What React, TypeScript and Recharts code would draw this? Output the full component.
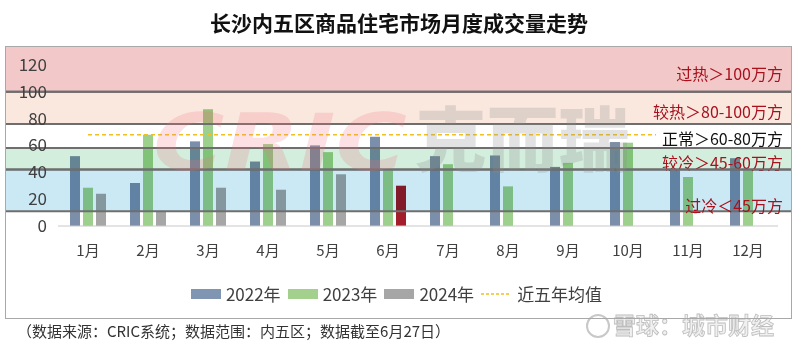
import React from "react";
import { Bar, Cell, ComposedChart, Legend, Line, ReferenceArea, XAxis, YAxis } from "recharts";

const months = ["1月", "2月", "3月", "4月", "5月", "6月", "7月", "8月", "9月", "10月", "11月", "12月"];
const sales2022 = [52, 32, 63, 48, 60, 66.5, 52, 52.5, 44, 62.5, 41.5, 50.5];
const sales2023 = [28.5, 68, 87, 61, 55, 41.5, 46, 29.5, 47, 62, 36.5, 41.5];
const sales2024 = [24, 11, 28.5, 27, 38.5, 30, null, null, null, null, null, null];
const fiveYearAvg = [68, 68, 68, 68, 68, 68, 68, 68, 68, 68, 68, 68];

const yTicks = [0, 20, 40, 60, 80, 100, 120];

// 背景色带（上沿 / 下沿，单位万方）
const bandTops = [134, 100, 76, 58, 42];
const bandBottoms = [100, 76, 58, 42, 11];
const bandLabels = ["过热＞100万方", "较热＞80-100万方", "正常＞60-80万方", "较冷＞45-60万方", "过冷＜45万方"];

const BAND_FILL = ["#f2c8c8", "#fae8df", "#ffffff", "#d3eedd", "#cbe8f5"];
const BAND_TEXT = ["#a8101c", "#a8101c", "#111111", "#a8101c", "#a8101c"];
const BAND_LABEL_UP = [19, 13, 10, 8, 6];

const FRAME_L = 5;
const FRAME_R = 792;
const FONT = '"Noto Sans CJK SC", "Noto Sans", sans-serif';

const data = months.map((m, i) => ({
  month: m,
  y2022: sales2022[i],
  y2023: sales2023[i],
  y2024: sales2024[i],
  avg: fiveYearAvg[i],
}));

const bandShape = (i: number) => (p: any) => {
  const { y, height } = p;
  const bottom = y + height;
  return (
    <g>
      <rect
        x={FRAME_L}
        y={y}
        width={FRAME_R - FRAME_L}
        height={height}
        fill={BAND_FILL[i]}
        style={{ mixBlendMode: "multiply" }}
      />
      {i > 0 && <line x1={FRAME_L} x2={FRAME_R} y1={y} y2={y} stroke="#6e6e6e" strokeWidth={2} />}
      <line x1={FRAME_L} x2={FRAME_R} y1={bottom} y2={bottom} stroke="#6e6e6e" strokeWidth={2} />
      {i === 2 && <rect x={656} y={bottom - BAND_LABEL_UP[i] - 10} width={128} height={20} fill="#ffffff" />}
      <text
        x={783}
        y={bottom - BAND_LABEL_UP[i]}
        textAnchor="end"
        dominantBaseline="central"
        fontSize={16}
        fontFamily={FONT}
        fill={BAND_TEXT[i]}
      >
        {bandLabels[i]}
      </text>
    </g>
  );
};

const legendItems = [
  { label: "2022年", color: "#7f95b2", dash: false },
  { label: "2023年", color: "#a3d18d", dash: false },
  { label: "2024年", color: "#a6a6a6", dash: false },
  { label: "近五年均值", color: "#f0c020", dash: true },
];

const renderLegend = () => (
  <div style={{ display: "flex", justifyContent: "center", alignItems: "center", fontFamily: FONT, fontSize: 17, color: "#404040" }}>
    {legendItems.map((it) => (
      <div key={it.label} style={{ display: "flex", alignItems: "center", marginRight: 7 }}>
        {it.dash ? (
          <svg width={30} height={10} style={{ marginRight: 6 }}>
            <line x1={0} x2={30} y1={5} y2={5} stroke={it.color} strokeWidth={1.5} strokeDasharray="3 2" />
          </svg>
        ) : (
          <div style={{ width: 30, height: 10, background: it.color, marginRight: 5 }} />
        )}
        <span>{it.label}</span>
      </div>
    ))}
  </div>
);

export default function App() {
  return (
    <div style={{ position: "absolute", left: 0, top: 0, width: 800, height: 353, background: "#ffffff", fontFamily: FONT, overflow: "hidden" }}>
      <div style={{ position: "absolute", left: 0, top: 7, width: 798, textAlign: "center", fontSize: 21, fontWeight: 700, color: "#111" }}>
        长沙内五区商品住宅市场月度成交量走势
      </div>
      <div style={{ position: "absolute", left: 0, top: 0 }}>
        <ComposedChart
          width={800}
          height={353}
          data={data}
          margin={{ top: 46, right: 22, bottom: 72, left: 0 }}
          barCategoryGap="20%"
          barGap={3}
        >
          <XAxis
            dataKey="month"
            tickLine={false}
            tickSize={0}
            tickMargin={19}
            height={30}
            axisLine={{ stroke: "#c8c8c8" }}
            tick={{ fontSize: 15, fill: "#404040", fontFamily: FONT }}
          />
          <YAxis
            domain={[0, 134]}
            ticks={yTicks}
            width={58}
            axisLine={false}
            tickLine={false}
            tickSize={0}
            tickMargin={11}
            allowDataOverflow
            tick={{ fontSize: 17, fill: "#404040", fontFamily: FONT }}
          />
          <Bar dataKey="y2022" fill="#7b8fab" isAnimationActive={false} />
          <Bar dataKey="y2023" fill="#9cd08c" isAnimationActive={false} />
          <Bar dataKey="y2024" fill="#a6a6a6" isAnimationActive={false}>
            {data.map((d, i) => (
              <Cell key={d.month} fill={i === 5 ? "#a31d2a" : "#a6a6a6"} />
            ))}
          </Bar>
          <Line
            dataKey="avg"
            stroke="#f0c020"
            strokeWidth={1.5}
            strokeDasharray="4 3"
            dot={false}
            activeDot={false}
            isAnimationActive={false}
          />
          {bandTops.map((top, i) => (
            <ReferenceArea key={bandLabels[i]} y1={bandBottoms[i]} y2={top} shape={bandShape(i)} zIndex={1000} />
          ))}
          <Legend content={renderLegend} wrapperStyle={{ position: "absolute", top: 281, left: 0, width: 800 }} />
        </ComposedChart>
      </div>
      {/* CRIC 水印 */}
      <svg width={800} height={353} style={{ position: "absolute", left: 0, top: 0, pointerEvents: "none" }}>
        <text x={153} y={170} fontSize={78} fontWeight={900} fontStyle="italic" fontFamily="DejaVu Sans" textLength={254} lengthAdjust="spacingAndGlyphs" fill="#f07080" fillOpacity={0.22}>
          CRIC
        </text>
        <text x={415} y={166} fontSize={70} fontWeight={900} fontFamily={FONT} textLength={215} lengthAdjust="spacingAndGlyphs" fill="#8a8a8a" fillOpacity={0.25}>
          克而瑞
        </text>
        <circle cx={598} cy={326} r={11} fill="none" stroke="#c8c8c8" strokeWidth={2} />
        <text x={613} y={334} fontSize={23} fontFamily={FONT} fontWeight={700} fill="#f0f0f0" stroke="#bdbdbd" strokeWidth={0.8}>
          雪球：城市财经
        </text>
      </svg>
      <div style={{ position: "absolute", left: FRAME_L, top: 46, width: FRAME_R - FRAME_L, height: 273, border: "1px solid #a8a8a8", boxSizing: "border-box", pointerEvents: "none" }} />
      <div style={{ position: "absolute", left: 17, top: 320, fontSize: 15, color: "#333" }}>
        （数据来源：CRIC系统；数据范围：内五区；数据截至6月27日）
      </div>
    </div>
  );
}
